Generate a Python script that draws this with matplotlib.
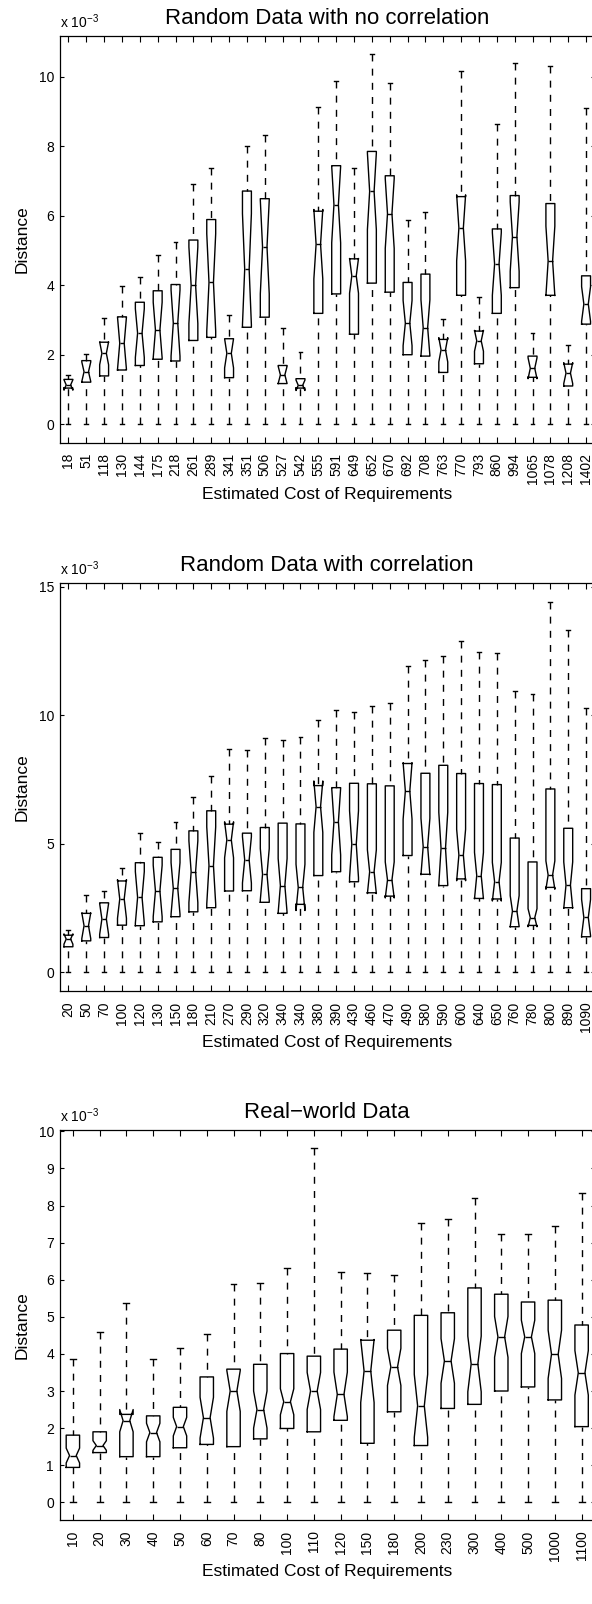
import numpy as np
import matplotlib
matplotlib.use('Agg')
import matplotlib.pyplot as plt

plt.rcParams['font.family'] = ['Liberation Sans', 'DejaVu Sans']
plt.rcParams['mathtext.fontset'] = 'custom'
plt.rcParams['mathtext.rm'] = 'Liberation Sans'
plt.rcParams['mathtext.it'] = 'Liberation Sans:italic'
plt.rcParams['lines.scale_dashes'] = False

# all distances in units of 10^-3, lower whisker of every box is at 0
cost_nocorr = ['18', '51', '118', '130', '144', '175', '218', '261', '289', '341',
               '351', '506', '527', '542', '555', '591', '649', '652', '670', '692',
               '708', '763', '770', '793', '860', '994', '1065', '1078', '1208', '1402']
hi_nocorr = [1.42, 2.02, 3.05, 3.98, 4.25, 4.86, 5.25, 6.91, 7.38, 3.14,
             8.02, 8.32, 2.78, 2.09, 9.12, 9.88, 7.37, 10.64, 9.81, 5.88,
             6.12, 3.02, 10.17, 3.67, 8.64, 10.40, 2.62, 10.30, 2.27, 9.09]
q3_nocorr = [1.29, 1.83, 2.36, 3.09, 3.51, 3.84, 4.02, 5.30, 5.89, 2.46,
             6.71, 6.49, 1.69, 1.31, 6.13, 7.44, 4.76, 7.85, 7.15, 4.08,
             4.32, 2.44, 6.55, 2.68, 5.62, 6.58, 1.96, 6.35, 1.73, 4.27]
med_nocorr = [1.13, 1.51, 2.04, 2.33, 2.62, 2.71, 2.91, 4.00, 4.08, 2.04,
              4.46, 5.10, 1.42, 1.12, 5.18, 6.32, 4.27, 6.70, 6.06, 2.91,
              2.78, 2.14, 5.65, 2.40, 4.61, 5.40, 1.61, 4.70, 1.47, 3.46]
q1_nocorr = [1.04, 1.21, 1.39, 1.56, 1.69, 1.87, 1.82, 2.41, 2.50, 1.34,
             2.79, 3.08, 1.17, 1.04, 3.19, 3.75, 2.59, 4.06, 3.80, 2.00,
             1.96, 1.49, 3.71, 1.74, 3.19, 3.93, 1.35, 3.71, 1.10, 2.88]
notch_nocorr = [0.15, 0.28, 0.33, 0.75, 0.70, 0.80, 0.95, 1.10, 1.40, 0.42,
                1.60, 1.35, 0.25, 0.15, 1.00, 1.10, 0.50, 1.10, 1.00, 0.65,
                0.80, 0.35, 0.95, 0.30, 0.90, 1.00, 0.30, 1.00, 0.30, 0.50]

cost_corr = ['20', '50', '70', '100', '120', '130', '150', '180', '210', '270',
             '290', '320', '340', '340', '380', '390', '430', '460', '470', '490',
             '580', '590', '600', '640', '650', '760', '780', '800', '890', '1090']
hi_corr = [1.65, 3.01, 3.18, 4.05, 5.44, 5.06, 5.87, 6.81, 7.66, 8.69,
           8.66, 9.12, 9.03, 9.16, 9.83, 10.22, 10.14, 10.35, 10.48, 11.94,
           12.17, 12.30, 12.91, 12.47, 12.43, 10.97, 10.82, 14.42, 13.34, 10.29]
q3_corr = [1.45, 2.30, 2.71, 3.56, 4.27, 4.48, 4.79, 5.51, 6.29, 5.77,
           5.42, 5.64, 5.81, 5.78, 7.27, 7.19, 7.36, 7.34, 7.26, 8.13,
           7.75, 8.06, 7.74, 7.35, 7.31, 5.23, 4.30, 7.14, 5.61, 3.26]
med_corr = [1.30, 1.82, 2.08, 2.86, 2.92, 3.17, 3.27, 3.92, 4.16, 5.16,
            4.38, 3.82, 3.38, 3.31, 6.45, 5.87, 4.99, 3.92, 3.60, 7.06,
            4.90, 4.83, 4.57, 3.77, 3.53, 2.39, 2.13, 3.79, 3.40, 2.14]
q1_corr = [1.00, 1.23, 1.36, 1.84, 1.82, 1.97, 2.17, 2.36, 2.52, 3.17,
           3.18, 2.73, 2.30, 2.65, 3.77, 3.92, 3.53, 3.10, 2.97, 4.55,
           3.82, 3.38, 3.64, 2.88, 2.86, 1.78, 1.83, 3.31, 2.52, 1.39]
notch_corr = [0.20, 0.50, 0.60, 0.75, 1.00, 1.00, 1.00, 1.20, 1.50, 0.70,
              0.90, 1.00, 1.05, 0.90, 1.00, 1.30, 1.30, 0.85, 0.70, 1.10,
              1.10, 1.40, 1.00, 0.90, 0.75, 0.60, 0.35, 0.55, 0.90, 0.70]

cost_real = ['10', '20', '30', '40', '50', '60', '70', '80', '100', '110',
             '120', '150', '180', '200', '230', '300', '400', '500', '1000', '1100']
hi_real = [3.86, 4.58, 5.36, 3.86, 4.17, 4.53, 5.88, 5.92, 6.32, 9.56,
           6.21, 6.19, 6.14, 7.53, 7.63, 8.21, 7.24, 7.24, 7.44, 8.34]
q3_real = [1.81, 1.90, 2.37, 2.33, 2.56, 3.38, 3.59, 3.72, 4.01, 3.94,
           4.13, 4.37, 4.64, 5.04, 5.11, 5.78, 5.61, 5.40, 5.45, 4.78]
med_real = [1.26, 1.53, 2.20, 1.88, 2.04, 2.28, 3.00, 2.50, 2.71, 3.00,
            2.91, 3.54, 3.65, 2.60, 3.81, 3.73, 4.46, 4.46, 3.99, 3.49]
q1_real = [0.94, 1.34, 1.23, 1.23, 1.47, 1.56, 1.50, 1.71, 1.99, 1.90,
           2.21, 1.59, 2.44, 1.53, 2.53, 2.64, 3.00, 3.11, 2.76, 2.04]
notch_real = [0.20, 0.13, 0.30, 0.25, 0.25, 0.55, 0.55, 0.50, 0.35, 0.50,
              0.60, 0.85, 0.50, 0.85, 0.60, 0.75, 0.55, 0.45, 0.65, 0.60]

titles = ['Random Data with no correlation', 'Random Data with correlation', 'Real\u2212world Data']
yticks = [np.arange(0, 11, 2), np.arange(0, 16, 5), np.arange(0, 11, 1)]

W, H = 592, 1604
# axes boxes in pixels: (top, bottom); right edge runs past the figure like the original
boxes_px = [(36, 442.7), (583.3, 991), (1130, 1520)]
left_px, right_px = 59.5, 595

fig = plt.figure(figsize=(W / 100, H / 100), dpi=100)

panels = [(cost_nocorr, hi_nocorr, q3_nocorr, med_nocorr, q1_nocorr, notch_nocorr),
          (cost_corr, hi_corr, q3_corr, med_corr, q1_corr, notch_corr),
          (cost_real, hi_real, q3_real, med_real, q1_real, notch_real)]

for k, (labels, hi, q3, med, q1, notch) in enumerate(panels):
    top, bot = boxes_px[k]
    ax = fig.add_axes([left_px / W, 1 - bot / H, (right_px - left_px) / W, (bot - top) / H])
    stats = []
    for i in range(len(labels)):
        stats.append(dict(med=med[i], q1=q1[i], q3=q3[i], whislo=0.0, whishi=hi[i],
                          cilo=med[i] - notch[i], cihi=med[i] + notch[i], fliers=[]))
    pos = np.arange(1, len(labels) + 1)
    lw = 1.0
    out = ax.bxp(stats, positions=pos, widths=0.5, capwidths=0.22, shownotches=True,
                 showfliers=False,
                 boxprops=dict(color='k', linewidth=lw),
                 medianprops=dict(color='k', linewidth=lw),
                 whiskerprops=dict(color='k', linewidth=lw, linestyle=(0, (5.0, 5.2))),
                 capprops=dict(color='k', linewidth=lw))
    # whiskers drawn from the cap toward the box
    for line in out['whiskers']:
        x, y = line.get_data()
        line.set_data(x[::-1], y[::-1])

    ymax = max(hi)
    ax.set_ylim(-0.05 * ymax, 1.05 * ymax)
    ax.set_xlim(0.5, len(labels) + 0.5)
    ax.set_xticks(pos)
    ax.set_xticklabels(labels, rotation=90)
    ax.set_yticks(yticks[k])
    ax.set_yticklabels([str(v) for v in yticks[k]])
    ax.tick_params(axis='x', direction='in', top=True, length=4.2, width=0.8,
                   labelsize=10, pad=7.5)
    ax.tick_params(axis='y', direction='in', right=True, length=3.2, width=0.8,
                   labelsize=10, pad=4)
    for s in ax.spines.values():
        s.set_linewidth(0.9)

    ax.set_title(titles[k], fontsize=16, pad=9)
    ax.set_ylabel('Distance', fontsize=12.5)
    ax.yaxis.set_label_coords(-30 / (right_px - left_px), 0.5)
    ax.set_xlabel('Estimated Cost of Requirements', fontsize=12.5, va='top')
    ax.xaxis.set_label_coords(0.5, -44 / (bot - top))
    ax.annotate('x 10$^{\u22123}$', xy=(0, 1), xycoords='axes fraction',
                xytext=(0, 6), textcoords='offset points', fontsize=10,
                ha='left', va='baseline')

fig.savefig('out.png', dpi=100)
